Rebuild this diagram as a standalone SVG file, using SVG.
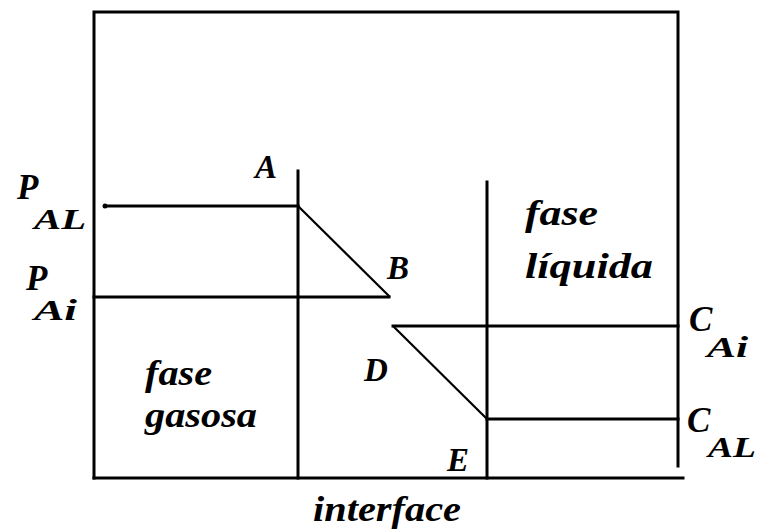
<svg xmlns="http://www.w3.org/2000/svg" width="760" height="531" viewBox="0 0 760 531">
  <style>
    .ln { stroke: #000; stroke-width: 3; fill: none; stroke-linecap: square; }
    .thin { stroke: #000; stroke-width: 2.2; fill: none; }
    .big { font-size: 35px; }
    .sub { font-size: 29px; }
    .pt { font-size: 33px; }
    .word { font-size: 36px; }
  </style>
  <rect width="760" height="531" fill="#fff"/>

  <g id="frame">
    <polyline class="ln" points="94,478 94,12 678,12 678,466"/>
    <line class="ln" x1="94" y1="478" x2="683" y2="478"/>
  </g>

  <g id="interfaces">
    <line class="ln" x1="298" y1="171" x2="298" y2="478"/>
    <line class="ln" x1="487" y1="182" x2="487" y2="478"/>
  </g>

  <g id="connectors">
    <line class="ln" x1="106" y1="206" x2="298" y2="206"/>
    <circle cx="105" cy="206" r="2.5" fill="#000"/>
    <line class="thin" x1="298" y1="206" x2="390" y2="297"/>
    <line class="ln" x1="94" y1="297" x2="389" y2="297"/>
    <line class="ln" x1="393" y1="326" x2="678" y2="326"/>
    <line class="thin" x1="393" y1="326" x2="487" y2="419"/>
    <line class="ln" x1="487" y1="419" x2="678" y2="419"/>
  </g>

  <g id="labels" font-family="Liberation Serif, serif" font-weight="bold" font-style="italic" fill="#000">
    <text class="pt" x="255" y="178">A</text>
    <text class="pt" x="387" y="279">B</text>
    <text class="pt" x="364" y="381">D</text>
    <text class="pt" x="447" y="471">E</text>

    <text class="big" x="17" y="199">P</text>
    <text class="sub" x="34" y="229" textLength="52" lengthAdjust="spacingAndGlyphs">AL</text>
    <text class="big" x="26" y="290">P</text>
    <text class="sub" x="34" y="320" textLength="43" lengthAdjust="spacingAndGlyphs">Ai</text>

    <text class="big" x="689" y="331">C</text>
    <text class="sub" x="707" y="357" textLength="41" lengthAdjust="spacingAndGlyphs">Ai</text>
    <text class="big" x="687" y="432">C</text>
    <text class="sub" x="708" y="457" textLength="48" lengthAdjust="spacingAndGlyphs">AL</text>

    <text class="word" x="525" y="225" textLength="73" lengthAdjust="spacingAndGlyphs">fase</text>
    <text class="word" x="525" y="278" textLength="128" lengthAdjust="spacingAndGlyphs">líquida</text>
    <text class="word" x="145" y="385" textLength="67" lengthAdjust="spacingAndGlyphs">fase</text>
    <text class="word" x="145" y="427" textLength="112" lengthAdjust="spacingAndGlyphs">gasosa</text>
    <text class="word" x="313" y="521" textLength="148" lengthAdjust="spacingAndGlyphs">interface</text>
  </g>
</svg>
